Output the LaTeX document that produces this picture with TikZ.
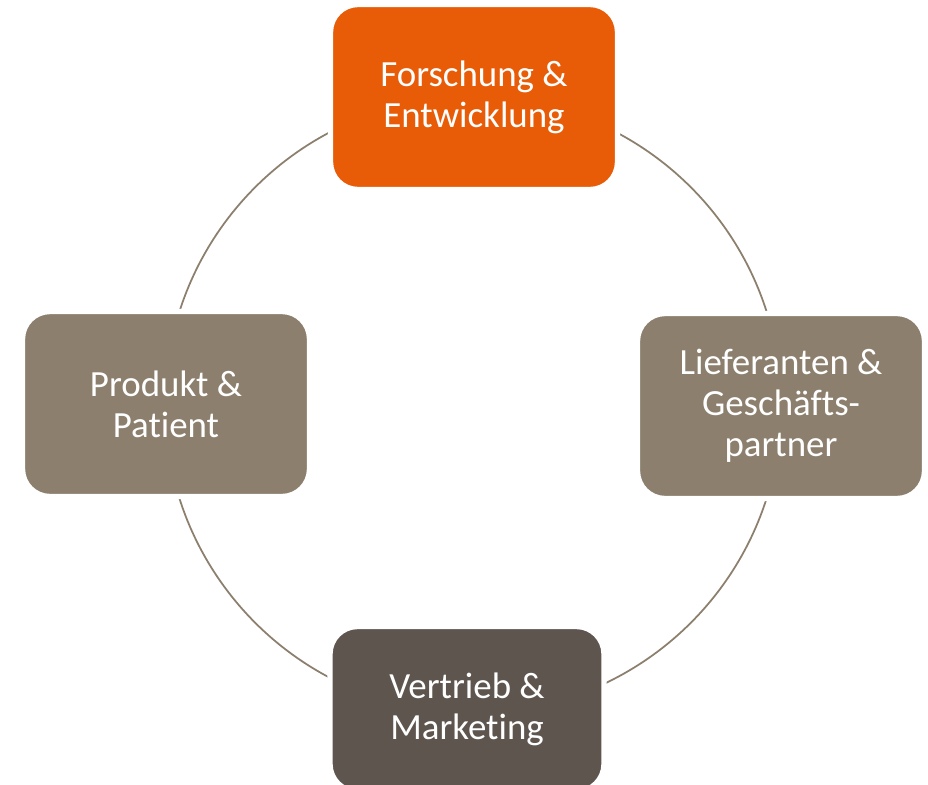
\documentclass[tikz,border=0pt]{standalone}
\usepackage{fontspec}
\setmainfont{Carlito}[Ligatures=NoCommon]
\definecolor{fuorange}{HTML}{E85C08}
\definecolor{taupe}{HTML}{8C7F6D}
\definecolor{darktaupe}{HTML}{5E554F}
\tikzset{
	x=0.02cm, y=-0.02cm, % 1 unidad = 1 pixel
	stage/.style={rectangle, rounded corners=0.55cm, draw=white, line width=3pt, text=white,
		align=center, inner sep=0pt, minimum width=5.74cm, minimum height=3.7cm,
		font=\fontsize{21}{23.3}\selectfont}, % Cajas del ciclo
	ring/.style={draw=taupe, line width=1pt} % Circulo que une las cajas
}

\begin{document}
\begin{tikzpicture}
			\clip (0,0) rectangle (928,784);
			\coordinate (hub) at (473,405);
			\draw[ring] (hub) circle[radius=308];
			\node[stage, fill=fuorange] (fue) at (474,97) {Forschung \&\\Entwicklung};
			\node[stage, fill=taupe] (lief) at (781,406) {Lieferanten \&\\Geschäfts-\\partner};
			\node[stage, fill=darktaupe, minimum width=5.48cm, minimum height=3.3cm] (vert) at (467,709) {Vertrieb \&\\Marketing};
			\node[stage, fill=taupe] (prod) at (166,404) {Produkt \&\\Patient};
\end{tikzpicture}
\end{document}
